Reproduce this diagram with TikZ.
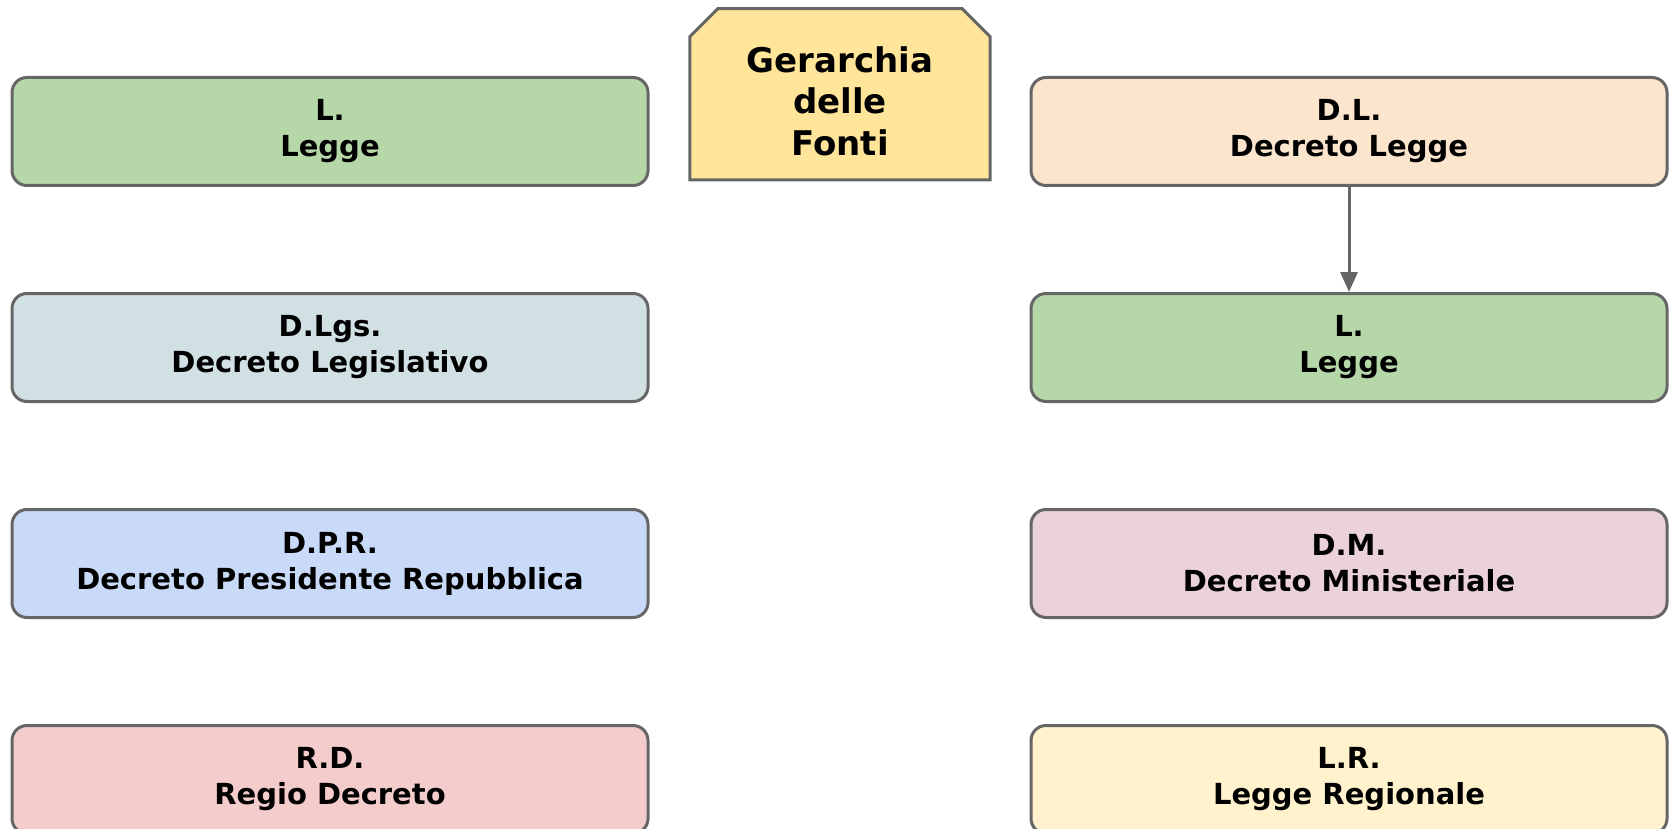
\documentclass[tikz,border=0pt]{standalone}
\usepackage{fontspec}
\setmainfont{DejaVu Sans}
\usetikzlibrary{arrows.meta}
\definecolor{bordergray}{HTML}{666666}
\definecolor{cgreen}{HTML}{B6D7A8}
\definecolor{cgrey}{HTML}{D0E0E3}
\definecolor{cblue}{HTML}{C9DAF8}
\definecolor{cpink}{HTML}{F4CCCC}
\definecolor{cpeach}{HTML}{FCE5CD}
\definecolor{cmauve}{HTML}{EAD1DC}
\definecolor{cyellow}{HTML}{FFF2CC}
\definecolor{ctitle}{HTML}{FFE599}
\begin{document}
\begin{tikzpicture}[x=1pt,y=-1pt,
  box/.style={draw=bordergray, line width=3pt, rounded corners=15pt,
    minimum width=636pt, minimum height=108pt, align=center,
    font=\fontsize{29}{36}\selectfont\bfseries, inner sep=0pt},
  titlebox/.style={rectangle, minimum width=300pt, minimum height=171pt, inner sep=0pt},
  titleline/.style={draw=bordergray, line width=3pt, fill=ctitle},
  titletext/.style={align=center, inner sep=0pt,
    font=\fontsize{34}{41.5}\selectfont\bfseries},
  conn/.style={draw=bordergray, line width=3pt, -{Triangle[length=20pt,width=17pt]}}]
\useasboundingbox (0,0) rectangle (1669,829);
\node[titlebox] (title) at (840,94.3) {};
\draw[titleline] (title.south west) -- ([yshift=-28pt]title.north west)
  -- ([xshift=28pt]title.north west) -- ([xshift=-28pt]title.north east)
  -- ([yshift=-28pt]title.north east) -- (title.south east) -- cycle;
\node[titletext] (titletxt) at ([yshift=-7pt]title.center) {Gerarchia\\delle\\Fonti};
\node[box, fill=cgreen] (l1) at (330,131.5) {L.\\Legge};
\node[box, fill=cgrey] (dlgs) at (330,347.5) {D.Lgs.\\Decreto Legislativo};
\node[box, fill=cblue] (dpr) at (330,563.5) {D.P.R.\\Decreto Presidente Repubblica};
\node[box, fill=cpink] (rd) at (330,779.5) {R.D.\\Regio Decreto};
\node[box, fill=cpeach] (dl) at (1349,131.5) {D.L.\\Decreto Legge};
\node[box, fill=cgreen] (l2) at (1349,347.5) {L.\\Legge};
\node[box, fill=cmauve] (dm) at (1349,563.5) {D.M.\\Decreto Ministeriale};
\node[box, fill=cyellow] (lr) at (1349,779.5) {L.R.\\Legge Regionale};
\draw[conn] (dl) -- (l2);
\end{tikzpicture}
\end{document}
